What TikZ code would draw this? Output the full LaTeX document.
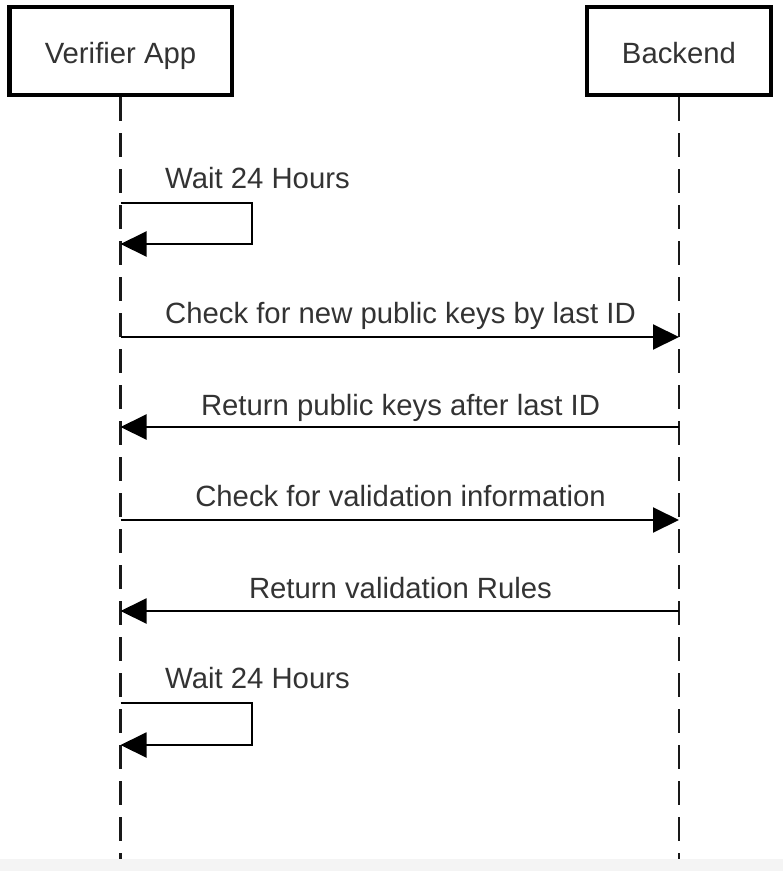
\documentclass[tikz,border=0pt]{standalone}
\usepackage{fontspec}
\setmainfont{Liberation Sans}
\usetikzlibrary{arrows.meta}
\definecolor{labelgray}{HTML}{333333}
\definecolor{footgray}{HTML}{F4F4F4}
\tikzset{
  actor/.style={draw=black, line width=4.5pt, fill=white, inner sep=0pt},
  lifeline/.style={draw=black!90, line width=2.4pt, dash pattern=on 24pt off 12pt},
  msg/.style={draw=black, line width=2pt, -{Triangle[length=26pt,width=25pt]}},
  msglabel/.style={text=labelgray, font=\fontsize{29.3pt}{34pt}\selectfont, inner sep=0pt},
}
\begin{document}
\begin{tikzpicture}[x=1pt,y=-1pt]
  \useasboundingbox (0,0) rectangle (783,871);
  % page footer band
  \fill[footgray] (0,859) rectangle (783,871);

  % participants
  \coordinate (vtop) at (120.5,97);
  \coordinate (vbot) at (120.5,859);
  \coordinate (btop) at (679,97);
  \coordinate (bbot) at (679,859);
  \draw[lifeline] (vtop) -- (vbot);
  \draw[lifeline] (btop) -- (bbot);

  \node[actor, minimum width=222.5pt, minimum height=88pt] (verifier) at (120.5,51) {};
  \node[msglabel, anchor=base] (verifierlbl) at (120.5,63) {Verifier App};
  \node[actor, minimum width=184pt, minimum height=88pt] (backend) at (679,51) {};
  \node[msglabel, anchor=base] (backendlbl) at (679,63) {Backend};

  % lifeline anchor points for each message row
  \foreach \n/\y in {s1a/203, s1b/244, m1/337, m2/427, m3/520, m4/611, s2a/703, s2b/745} {
    \coordinate (v\n) at (120.5,\y);
    \coordinate (b\n) at (679,\y);
  }
  \coordinate (s1c) at (252,203);
  \coordinate (s1d) at (252,244);
  \coordinate (s2c) at (252,703);
  \coordinate (s2d) at (252,745);

  % self message: wait
  \node[msglabel, anchor=base west] (wait1) at (165,188) {Wait 24 Hours};
  \draw[msg] (vs1a) -- (s1c) -- (s1d) -- (vs1b);

  % exchanges
  \node[msglabel, anchor=base] (lbl1) at (400.5,323) {Check for new public keys by last ID};
  \draw[msg] (vm1) -- (bm1);
  \node[msglabel, anchor=base] (lbl2) at (400.5,415) {Return public keys after last ID};
  \draw[msg] (bm2) -- (vm2);
  \node[msglabel, anchor=base] (lbl3) at (400.5,506) {Check for validation information};
  \draw[msg] (vm3) -- (bm3);
  \node[msglabel, anchor=base] (lbl4) at (400.5,598) {Return validation Rules};
  \draw[msg] (bm4) -- (vm4);

  % self message: wait again
  \node[msglabel, anchor=base west] (wait2) at (165,688) {Wait 24 Hours};
  \draw[msg] (vs2a) -- (s2c) -- (s2d) -- (vs2b);
\end{tikzpicture}
\end{document}
